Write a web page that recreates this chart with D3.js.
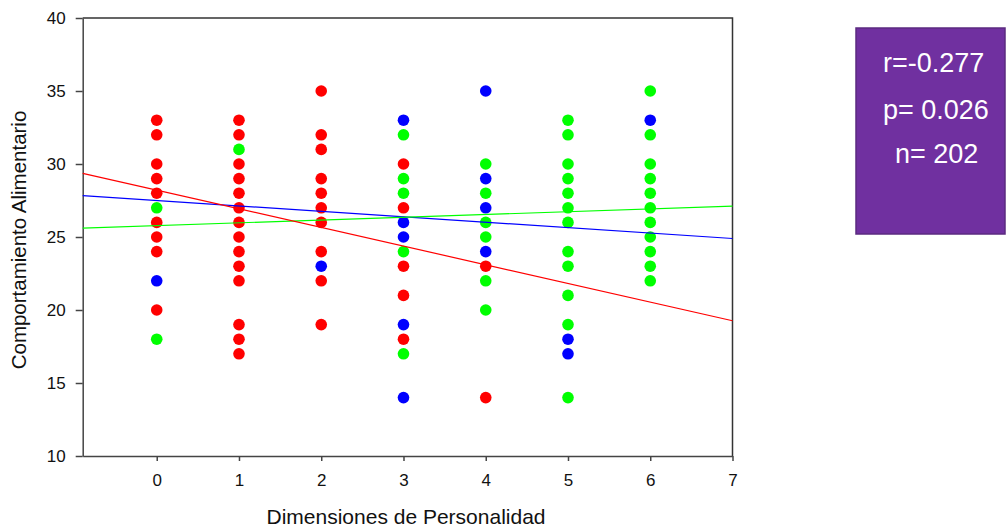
<!DOCTYPE html>
<html>
<head>
<meta charset="utf-8">
<script src="https://cdn.jsdelivr.net/npm/d3@7"></script>
<style>
  body { margin: 0; background: #fff; }
  svg { display: block; font-family: "Liberation Sans", Arial, sans-serif; }
  .axis path, .axis line { stroke: #444; stroke-width: 1.5; }
  .axis text { font-size: 17px; fill: #111; }
</style>
</head>
<body>
<div id="chart"></div>
<script>
// personality dimension (x) categories
const dims = [0, 1, 2, 3, 4, 5, 6];
// y values per dimension, one array per group colour
const redVals = [
  [33, 32, 30, 29, 28, 26, 25, 24, 20],
  [33, 32, 30, 29, 28, 27, 26, 25, 24, 23, 22, 19, 18, 17],
  [35, 32, 31, 29, 28, 27, 26, 24, 22, 19],
  [30, 27, 23, 21, 18],
  [23, 14],
  [],
  []
];
const greenVals = [
  [27, 18],
  [31],
  [],
  [32, 29, 28, 24, 17],
  [30, 28, 26, 25, 22, 20],
  [33, 32, 30, 29, 28, 27, 26, 24, 23, 21, 19, 14],
  [35, 32, 30, 29, 28, 27, 26, 25, 24, 23, 22]
];
const blueVals = [
  [22],
  [],
  [23],
  [33, 26, 25, 19, 14],
  [35, 29, 27, 24],
  [18, 17],
  [33]
];
// fitted regression lines: slope / intercept
const fitNames = ["blue", "green", "red"];
const fitSlopes = [-0.372, 0.19, -1.278];
const fitIntercepts = [27.50, 25.78, 28.21];

const xTicks = [0, 1, 2, 3, 4, 5, 6, 7];
const yTicks = [10, 15, 20, 25, 30, 35, 40];
const statLines = ["r=-0.277", "p= 0.026", "n= 202"];

const width = 1007, height = 528;
const colors = {red: "#ff0000", green: "#00ff00", blue: "#0000ff"};

const svg = d3.select("#chart").append("svg")
    .attr("width", width)
    .attr("height", height);

svg.append("rect").attr("width", width).attr("height", height).attr("fill", "#fff");

const x = d3.scaleLinear().domain([-0.9, 7]).range([82.7, 732.5]);
const y = d3.scaleLinear().domain([10, 40]).range([456, 18]);

// frame (top + right)
svg.append("path")
    .attr("d", `M${x(-0.9)},${y(40)}H${x(7)}V${y(10)}`)
    .attr("fill", "none")
    .attr("stroke", "#333")
    .attr("stroke-width", 1.5);

svg.append("g")
    .attr("class", "axis")
    .attr("transform", `translate(0,${y(10)})`)
    .call(d3.axisBottom(x).tickValues(xTicks).tickSize(5).tickPadding(13).tickSizeOuter(0));

svg.append("g")
    .attr("class", "axis")
    .attr("transform", `translate(${x(-0.9)},0)`)
    .call(d3.axisLeft(y).tickValues(yTicks).tickSize(7).tickPadding(10).tickSizeOuter(0));

// points
const toPoints = (vals, color) => vals.flatMap((col, i) => col.map(v => ({x: dims[i], y: v, color})));
const points = [
  ...toPoints(blueVals, "blue"),
  ...toPoints(greenVals, "green"),
  ...toPoints(redVals, "red")
];

svg.append("g").selectAll("circle")
    .data(points)
    .join("circle")
    .attr("cx", d => x(d.x))
    .attr("cy", d => y(d.y))
    .attr("r", 5.8)
    .attr("fill", d => colors[d.color]);

// regression lines
const [x0, x1] = x.domain();
svg.append("g").selectAll("line")
    .data(fitNames.map((n, i) => ({name: n, m: fitSlopes[i], b: fitIntercepts[i]})))
    .join("line")
    .attr("x1", x(x0))
    .attr("x2", x(x1))
    .attr("y1", d => y(d.b + d.m * x0))
    .attr("y2", d => y(d.b + d.m * x1))
    .attr("stroke", d => colors[d.name])
    .attr("stroke-width", 1.2);

// axis titles
svg.append("text")
    .attr("x", 406)
    .attr("y", 524)
    .attr("text-anchor", "middle")
    .attr("font-size", 21)
    .attr("fill", "#111")
    .text("Dimensiones de Personalidad");

svg.append("text")
    .attr("transform", "translate(26,240) rotate(-90)")
    .attr("text-anchor", "middle")
    .attr("font-size", 20.5)
    .attr("fill", "#111")
    .text("Comportamiento Alimentario");

// stats box
svg.append("rect")
    .attr("x", 856).attr("y", 28)
    .attr("width", 149).attr("height", 206)
    .attr("fill", "#7030a0")
    .attr("stroke", "#5b2a80")
    .attr("stroke-width", 1.5);

const statX = [883, 883, 895], statY = [72, 119, 163];
svg.append("g").selectAll("text")
    .data(statLines)
    .join("text")
    .attr("x", (d, i) => statX[i])
    .attr("y", (d, i) => statY[i])
    .attr("font-size", 27)
    .attr("fill", "#fff")
    .text(d => d);
</script>
</body>
</html>
